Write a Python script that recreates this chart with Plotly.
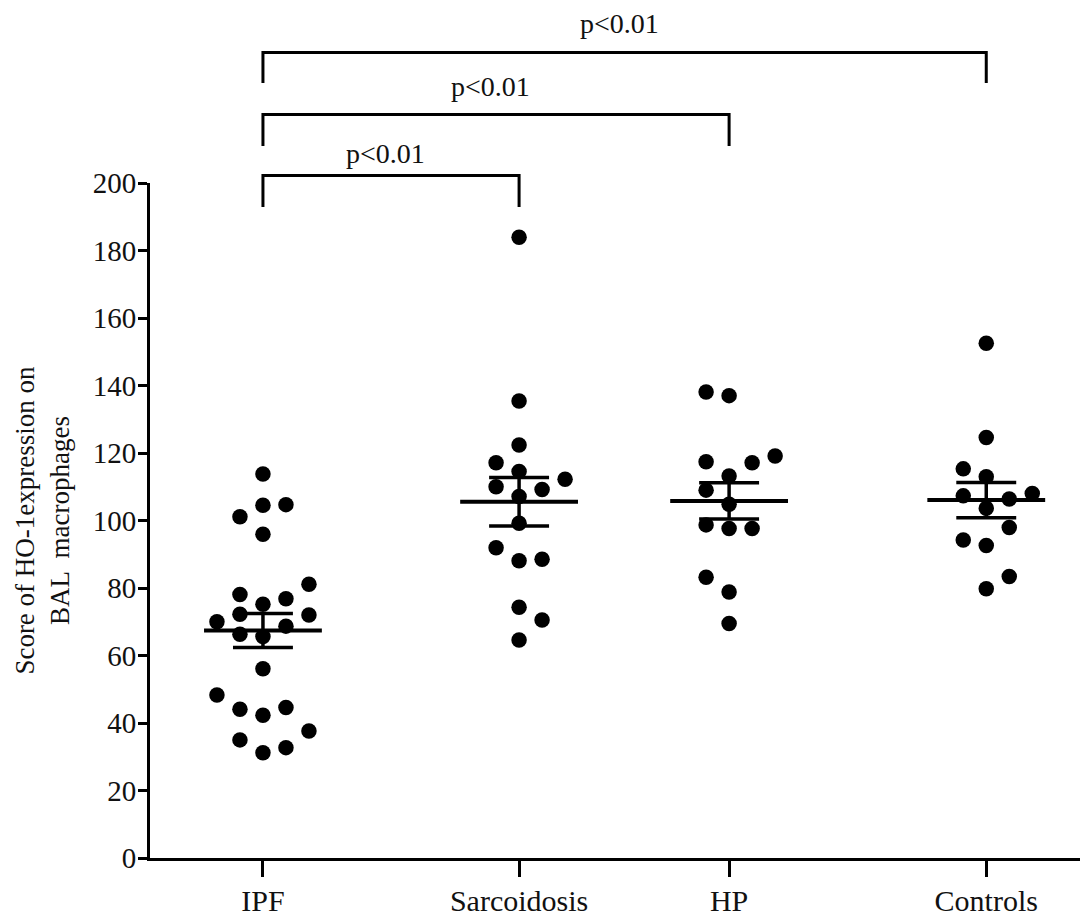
import numpy as np
import plotly.graph_objects as go

# ---- data ----
groups = ["IPF", "Sarcoidosis", "HP", "Controls"]

ipf_values = [113.8, 104.5, 104.7, 101.1, 95.9, 81.1, 78.1, 76.8, 75.2, 72.2, 72.0, 70.0,
              68.7, 66.3, 65.6, 56.1, 48.3, 44.1, 44.6, 42.3, 37.6, 35.0, 32.7, 31.2]
sarcoidosis_values = [183.9, 135.4, 122.4, 117.1, 114.5, 112.2, 110.0, 109.2, 107.1, 99.2,
                      91.9, 88.1, 88.5, 74.3, 70.5, 64.6]
hp_values = [138.1, 137.0, 119.1, 117.4, 117.1, 113.2, 109.0, 104.8, 98.7, 97.6, 97.6,
             83.2, 78.8, 69.5]
controls_values = [152.5, 124.6, 115.3, 113.0, 107.3, 106.4, 108.0, 103.6, 97.9, 94.2,
                   92.6, 83.4, 79.8]

# beeswarm column slot of each dot (as arranged in the picture)
ipf_slots = [0, 0, 1, -1, 0, 2, -1, 1, 0, -1, 2, -2, 1, -1, 0, 0, -2, -1, 1, 0, 2, -1, 1, 0]
sarcoidosis_slots = [0, 0, 0, -1, 0, 2, -1, 1, 0, 0, -1, 0, 1, 0, 1, 0]
hp_slots = [-1, 0, 2, -1, 1, 0, -1, 0, -1, 0, 1, -1, 0, 0]
controls_slots = [0, 0, -1, 0, -1, 1, 2, 0, 1, -1, 0, 1, 0]

y_ticks = [0, 20, 40, 60, 80, 100, 120, 140, 160, 180, 200]

comparisons = [("IPF", "Sarcoidosis", "p<0.01"),
               ("IPF", "HP", "p<0.01"),
               ("IPF", "Controls", "p<0.01")]

# ---- layout constants ----
group_pos = {"IPF": 0.0, "Sarcoidosis": 1.0, "HP": 1.82, "Controls": 2.824}
slot_w = 0.0898
mean_half = 0.23
cap_half = 0.117
FONT = "Liberation Serif"
INK = "#111111"

values = [ipf_values, sarcoidosis_values, hp_values, controls_values]
slots = [ipf_slots, sarcoidosis_slots, hp_slots, controls_slots]

fig = go.Figure()

for g, v, s in zip(groups, values, slots):
    c = group_pos[g]
    xs = [c + k * slot_w for k in s]
    fig.add_trace(go.Scatter(x=xs, y=v, mode="markers", cliponaxis=False,
                             marker=dict(size=15.5, color="black"), showlegend=False,
                             hoverinfo="y"))
    arr = np.array(v)
    m = arr.mean()
    sem = arr.std(ddof=1) / np.sqrt(len(arr))
    # mean line
    fig.add_trace(go.Scatter(x=[c - mean_half, c + mean_half], y=[m, m], mode="lines",
                             line=dict(color="black", width=4), showlegend=False,
                             hoverinfo="skip"))
    # SEM caps and stem
    fig.add_trace(go.Scatter(
        x=[c - cap_half, c + cap_half, None, c - cap_half, c + cap_half, None, c, c],
        y=[m + sem, m + sem, None, m - sem, m - sem, None, m - sem, m + sem],
        mode="lines", line=dict(color="black", width=3.5), showlegend=False,
        hoverinfo="skip"))

# significance brackets (heights in y units, above the 0-200 axis)
y_top = 200.0
levels = [(202.2, 192.9, 208.8), (220.3, 211.0, 228.6), (238.7, 229.6, 247.3)]
shapes = []
annotations = []
for (a, b, label), (yh, yl, yt) in zip(comparisons, levels):
    xa, xb = group_pos[a], group_pos[b]
    shapes.append(dict(type="path", xref="x", yref="paper",
                       path=f"M {xa},{yl / y_top} L {xa},{yh / y_top} L {xb},{yh / y_top} L {xb},{yl / y_top}",
                       line=dict(color="black", width=3)))
    annotations.append(dict(x=(xa + xb) / 2 - 0.02, y=yt / y_top, xref="x", yref="paper",
                            text=label, showarrow=False, xanchor="center", yanchor="middle",
                            font=dict(family=FONT, size=28, color=INK)))

annotations.append(dict(x=-0.116, y=0.5, xref="paper", yref="paper",
                        text="Score of HO-1expression on<br>BAL  macrophages",
                        textangle=-90, showarrow=False, xanchor="center", yanchor="middle",
                        font=dict(family=FONT, size=27, color=INK)))

fig.update_layout(
    width=1080, height=918,
    margin=dict(l=150, r=0, t=183, b=60),
    paper_bgcolor="white", plot_bgcolor="white",
    shapes=shapes, annotations=annotations,
    xaxis=dict(range=[-0.441, 3.19], tickmode="array", automargin=False,
               tickvals=[group_pos[g] for g in groups], ticktext=groups,
               showgrid=False, zeroline=False, showline=True, linecolor="black",
               linewidth=3, ticks="outside", ticklen=16, tickwidth=3, tickcolor="black",
               tickfont=dict(family=FONT, size=30, color=INK), ticklabelstandoff=-2),
    yaxis=dict(range=[0, 200], tickmode="array", tickvals=y_ticks, automargin=False,
               showgrid=False, zeroline=False, showline=True, linecolor="black",
               linewidth=3, ticks="outside", ticklen=9, tickwidth=3, tickcolor="black",
               tickfont=dict(family=FONT, size=29, color=INK), ticklabelstandoff=-4),
)

fig.write_html("out.html", config={"displayModeBar": False},
               post_script="document.body.style.margin='0';document.body.style.overflow='hidden';")
